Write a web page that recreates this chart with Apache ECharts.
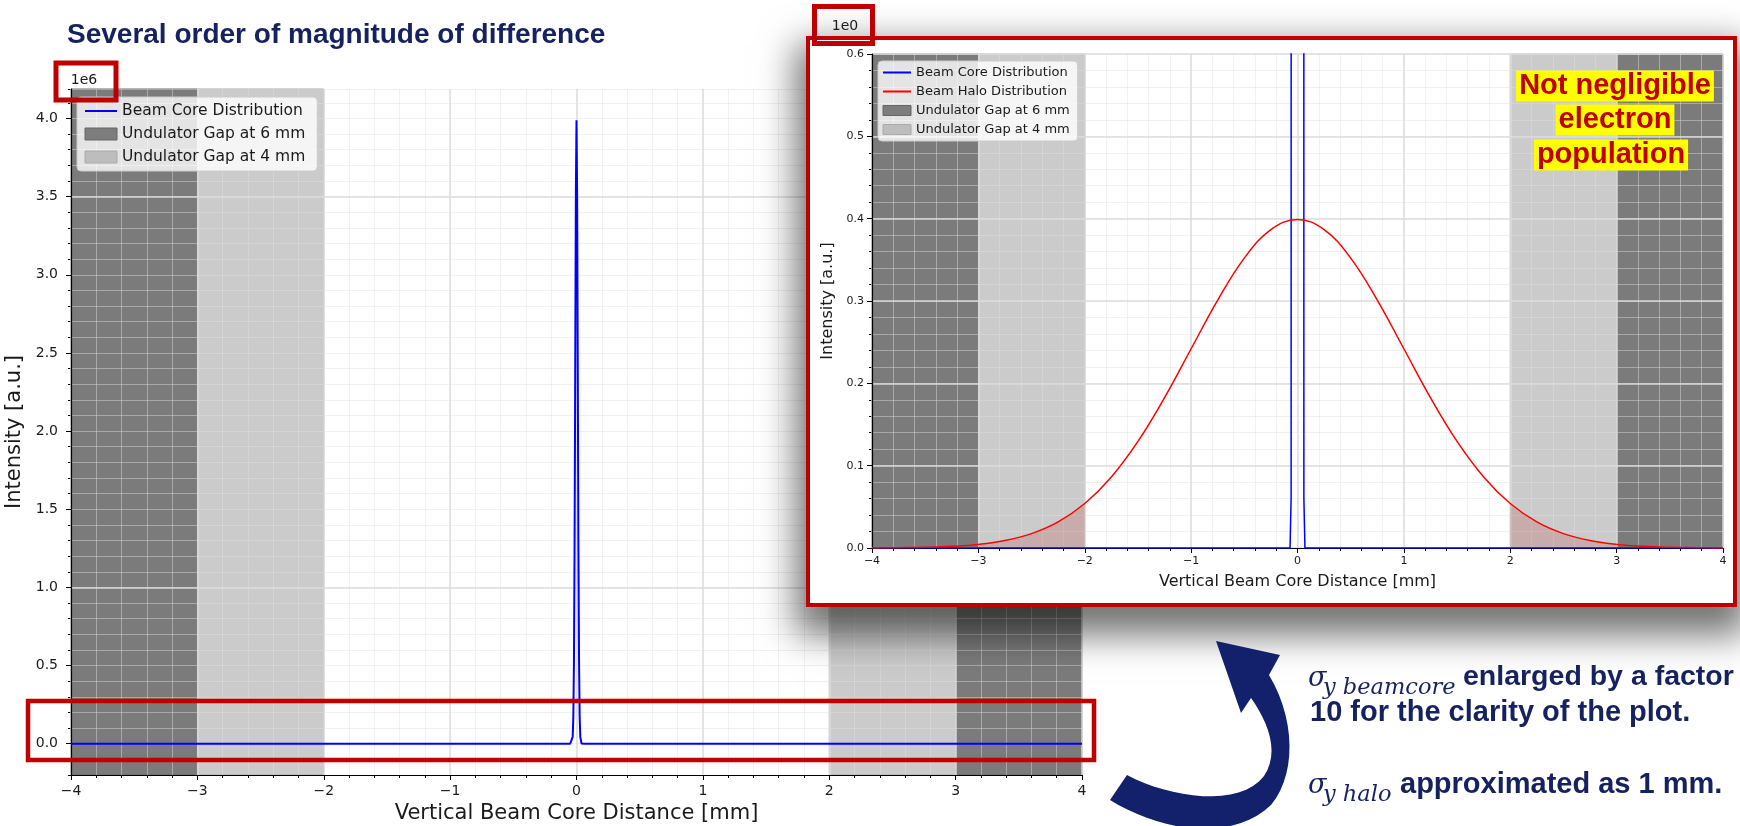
<!DOCTYPE html>
<html>
<head>
<meta charset="utf-8">
<title>Beam core vs halo</title>
<script src="https://cdn.jsdelivr.net/npm/echarts@6/dist/echarts.min.js"></script>
<style>
    html, body { margin: 0; padding: 0; background: #fff; }
    #page { position: relative; width: 1740px; height: 826px; overflow: hidden; background: #fff; }
    #main { position: absolute; left: 0; top: 0; width: 1740px; height: 826px; }
    #inset { position: absolute; left: 806px; top: 36px; width: 923px; height: 563px;
             border: 4px solid #c00000; background: #fff;
             box-shadow: 0 18px 34px 10px rgba(0,0,0,0.55); }
    #overlay { position: absolute; left: 0; top: 0; width: 1740px; height: 826px; pointer-events: none; }
</style>
</head>
<body>
<div id="page">
    <div id="main"></div>
    <div id="inset"></div>
    <div id="overlay"></div>
</div>
<script>
// data
const xTicks = [-4, -3, -2, -1, 0, 1, 2, 3, 4];
const gap6mm = [[-4, -3], [3, 4]];
const gap4mm = [[-3, -2], [2, 3]];

// beam core (sigma ~0.01 mm, peak ~3.99e6)
const coreX = [-4, -0.07, -0.06, -0.05, -0.04, -0.03, -0.025, -0.02, -0.015, -0.01, -0.005, 0,
               0.005, 0.01, 0.015, 0.02, 0.025, 0.03, 0.04, 0.05, 0.06, 0.07, 4];
const coreY = [0, 0, 0.06, 15, 1340, 44300, 175000, 540000, 1295000, 2420000, 3520000, 3989000,
               3520000, 2420000, 1295000, 540000, 175000, 44300, 1340, 15, 0.06, 0, 0];

// beam halo (sigma ~1 mm, peak ~0.399)
const haloX = [-4, -3.75, -3.5, -3.25, -3, -2.75, -2.5, -2.25, -2, -1.75, -1.5, -1.25, -1, -0.75, -0.5, -0.25, 0,
               0.25, 0.5, 0.75, 1, 1.25, 1.5, 1.75, 2, 2.25, 2.5, 2.75, 3, 3.25, 3.5, 3.75, 4];
const haloY = [0.0001, 0.0004, 0.0009, 0.0020, 0.0044, 0.0091, 0.0175, 0.0317, 0.0540, 0.0863, 0.1295, 0.1826, 0.2420, 0.3011, 0.3521, 0.3867, 0.3989,
               0.3867, 0.3521, 0.3011, 0.2420, 0.1826, 0.1295, 0.0863, 0.0540, 0.0317, 0.0175, 0.0091, 0.0044, 0.0020, 0.0009, 0.0004, 0.0001];

const mainYLabels = [0, 500000, 1000000, 1500000, 2000000, 2500000, 3000000, 3500000, 4000000];
const insetYLabels = [0, 0.1, 0.2, 0.3, 0.4, 0.5, 0.6];

const FONT = 'DejaVu Sans';
const TXT = '#1a1a1a';
const MAJOR_GRID = 'rgba(220,220,220,0.95)';
const MINOR_GRID = 'rgba(225,225,225,0.45)';
const DARK = '#7b7b7b';
const LIGHT = '#cbcbcb';

function fmtX(v) {
    if (Math.abs(v - Math.round(v)) > 1e-6) return '';
    const r = Math.round(v);
    return r < 0 ? '\u2212' + Math.abs(r) : String(r);
}

function bandSeries(name, ranges, fill, stroke) {
    return {
        type: 'custom', name: name, z: 1, silent: true,
        data: ranges.map(r => [r[0], r[1], 0]),
        encode: { x: [0, 1], y: 2 },
        itemStyle: { color: fill },
        renderItem: function (params, api) {
            const a = api.coord([api.value(0), 0]);
            const b = api.coord([api.value(1), 0]);
            const cs = params.coordSys;
            return {
                type: 'rect',
                shape: { x: a[0], y: cs.y, width: b[0] - a[0], height: cs.height },
                style: { fill: fill, stroke: stroke, lineWidth: 1 }
            };
        }
    };
}

function xAxes(fontSize, nameSize, nameGap, labelMargin) {
    return [{
        type: 'value', min: -4, max: 4, interval: 1, z: 4,
        axisLine: { show: true, onZero: false, lineStyle: { color: '#000', width: 1.2 } },
        axisTick: { show: true, length: 5, lineStyle: { color: '#000', width: 1 } },
        axisLabel: { fontFamily: FONT, fontSize: fontSize, color: TXT, margin: labelMargin, formatter: fmtX },
        splitLine: { show: true, lineStyle: { color: MAJOR_GRID, width: 1.5 } },
        name: 'Vertical Beam Core Distance [mm]', nameLocation: 'middle', nameGap: nameGap,
        nameTextStyle: { fontFamily: FONT, fontSize: nameSize, color: TXT }
    }, {
        type: 'value', min: -4, max: 4, interval: 0.2, z: 3, position: 'bottom',
        axisLine: { show: false, onZero: false },
        axisTick: { show: true, length: 3, lineStyle: { color: '#000', width: 1 } },
        axisLabel: { show: false },
        splitLine: { show: true, lineStyle: { color: MINOR_GRID, width: 1 } }
    }];
}

// legend entries: line series without the circle marker, patches for the gaps
const lineEntry = (name) => ({ name: name, itemStyle: { opacity: 0 } });
const gapEntries = [
    { name: 'Undulator Gap at 6 mm', icon: 'rect', itemStyle: { color: '#7d7d7d', borderColor: '#666', borderWidth: 1 } },
    { name: 'Undulator Gap at 4 mm', icon: 'rect', itemStyle: { color: '#bdbdbd', borderColor: '#aaa', borderWidth: 1 } }
];

// ---------- main chart ----------
const mainChart = echarts.init(document.getElementById('main'));
mainChart.setOption({
    animation: false,
    grid: { left: 71, right: 658, top: 89, bottom: 51, containLabel: false, outerBoundsMode: 'none' },
    legend: {
        left: 77, top: 97, orient: 'vertical', z: 10,
        itemWidth: 32, itemHeight: 12, itemGap: 7, padding: [6, 12, 6, 7],
        backgroundColor: 'rgba(255,255,255,0.8)', borderColor: '#cccccc', borderWidth: 1, borderRadius: 4,
        textStyle: { fontFamily: FONT, fontSize: 15.5, color: TXT },
        data: [lineEntry('Beam Core Distribution')].concat(gapEntries)
    },
    xAxis: xAxes(14, 21, 27, 9),
    yAxis: [{
        type: 'value', min: -200000, max: 4188500, interval: 100000, z: 4,
        axisLine: { show: true, onZero: false, lineStyle: { color: '#000', width: 1.2 } },
        axisTick: { show: true, length: 5, customValues: mainYLabels, lineStyle: { color: '#000', width: 1 } },
        axisLabel: {
            fontFamily: FONT, fontSize: 14, color: TXT, margin: 13,
            formatter: v => (Math.abs(v / 500000 - Math.round(v / 500000)) < 1e-6) ? (v / 1e6).toFixed(1) : ''
        },
        splitLine: { show: true, lineStyle: { color: ['transparent', 'transparent', MAJOR_GRID, 'transparent', 'transparent'], width: 1.5 } },
        name: 'Intensity [a.u.]', nameLocation: 'middle', nameGap: 35,
        nameTextStyle: { fontFamily: FONT, fontSize: 21, color: TXT }
    }, {
        type: 'value', min: -200000, max: 4188500, interval: 100000, z: 3, position: 'left',
        axisLine: { show: false, onZero: false },
        axisTick: { show: true, length: 3, lineStyle: { color: '#000', width: 1 } },
        axisLabel: { show: false },
        splitLine: { show: true, lineStyle: { color: MINOR_GRID, width: 1 } }
    }],
    series: [
        bandSeries('Undulator Gap at 6 mm', gap6mm, DARK, '#6a6a6a'),
        bandSeries('Undulator Gap at 4 mm', gap4mm, LIGHT, '#aaaaaa'),
        {
            type: 'line', name: 'Beam Core Distribution', z: 6,
            data: coreX.map((x, i) => [x, coreY[i]]),
            symbol: 'none', lineStyle: { color: '#0000ff', width: 2 }, itemStyle: { color: '#0000ff' }
        }
    ]
});

// ---------- inset (zoomed) chart ----------
const insetChart = echarts.init(document.getElementById('inset'));
insetChart.setOption({
    animation: false,
    grid: { left: 62, right: 10, top: 14, bottom: 55, containLabel: false, outerBoundsMode: 'none' },
    legend: {
        left: 68, top: 21, orient: 'vertical', z: 10,
        itemWidth: 28, itemHeight: 10, itemGap: 6, padding: [5, 8, 5, 4],
        backgroundColor: 'rgba(255,255,255,0.8)', borderColor: '#cccccc', borderWidth: 1, borderRadius: 4,
        textStyle: { fontFamily: FONT, fontSize: 13, color: TXT },
        data: [lineEntry('Beam Core Distribution'), lineEntry('Beam Halo Distribution')].concat(gapEntries)
    },
    xAxis: xAxes(11, 16, 26, 8),
    yAxis: [{
        type: 'value', min: 0, max: 0.6, interval: 0.1, z: 4,
        axisLine: { show: true, onZero: false, lineStyle: { color: '#000', width: 1.2 } },
        axisTick: { show: true, length: 5, lineStyle: { color: '#000', width: 1 } },
        axisLabel: { fontFamily: FONT, fontSize: 11, color: TXT, margin: 8, formatter: v => v.toFixed(1) },
        splitLine: { show: true, lineStyle: { color: MAJOR_GRID, width: 1.5 } },
        name: 'Intensity [a.u.]', nameLocation: 'middle', nameGap: 35,
        nameTextStyle: { fontFamily: FONT, fontSize: 16, color: TXT }
    }, {
        type: 'value', min: 0, max: 0.6, interval: 0.02, z: 3, position: 'left',
        axisLine: { show: false, onZero: false },
        axisTick: { show: true, length: 3, lineStyle: { color: '#000', width: 1 } },
        axisLabel: { show: false },
        splitLine: { show: true, lineStyle: { color: MINOR_GRID, width: 1 } }
    }],
    series: [
        bandSeries('Undulator Gap at 6 mm', gap6mm, DARK, '#6a6a6a'),
        bandSeries('Undulator Gap at 4 mm', gap4mm, LIGHT, '#aaaaaa'),
        {
            type: 'line', name: 'tailLeft', z: 5, silent: true, smooth: 0.4, symbol: 'none',
            data: haloX.map((x, i) => [x, haloY[i]]).filter(p => p[0] <= -2),
            lineStyle: { width: 0 }, areaStyle: { color: 'rgba(185,0,0,0.21)' }
        },
        {
            type: 'line', name: 'tailRight', z: 5, silent: true, smooth: 0.4, symbol: 'none',
            data: haloX.map((x, i) => [x, haloY[i]]).filter(p => p[0] >= 2),
            lineStyle: { width: 0 }, areaStyle: { color: 'rgba(185,0,0,0.21)' }
        },
        {
            type: 'line', name: 'Beam Core Distribution', z: 6,
            data: coreX.map((x, i) => [x, coreY[i]]),
            symbol: 'none', lineStyle: { color: '#0000ff', width: 1.5 }, itemStyle: { color: '#0000ff' }
        },
        {
            type: 'line', name: 'Beam Halo Distribution', z: 7, smooth: 0.4,
            data: haloX.map((x, i) => [x, haloY[i]]),
            symbol: 'none', lineStyle: { color: '#ff0000', width: 1.5 }, itemStyle: { color: '#ff0000' }
        }
    ]
});

// ---------- slide annotations ----------
const NAVY = '#16215f';
const boldFont = (s) => 'bold ' + s + 'px "Liberation Sans", Arial, sans-serif';
const mathFont = (s) => 'italic ' + s + 'px "DejaVu Serif", serif';

// outline of the curved arrow, built from cubic segments
function cubic(p0, p1, p2, p3, n) {
    const pts = [];
    for (let i = 1; i <= n; i++) {
        const t = i / n, u = 1 - t;
        pts.push([
            u * u * u * p0[0] + 3 * u * u * t * p1[0] + 3 * u * t * t * p2[0] + t * t * t * p3[0],
            u * u * u * p0[1] + 3 * u * u * t * p1[1] + 3 * u * t * t * p2[1] + t * t * t * p3[1]
        ]);
    }
    return pts;
}
const arrowPts = [[1127, 775]]
    .concat(cubic([1127, 775], [1170, 798], [1240, 808], [1264, 776], 16))
    .concat(cubic([1264, 776], [1280, 752], [1268, 722], [1251, 698], 12))
    .concat([[1241, 713], [1216, 641], [1280, 655], [1269, 675]])
    .concat(cubic([1269, 675], [1296, 720], [1296, 775], [1271, 805], 14))
    .concat(cubic([1271, 805], [1232, 842], [1162, 832], [1110, 800], 18));

const overlay = echarts.init(document.getElementById('overlay'));
overlay.setOption({
    animation: false,
    graphic: [
        { type: 'text', style: { x: 67, y: 35, text: 'Several order of magnitude of difference', font: boldFont(28), fill: NAVY, verticalAlign: 'middle' } },
        // offset labels with red highlight boxes
        { type: 'text', style: { x: 84, y: 80, text: '1e6', font: '14px "DejaVu Sans"', fill: TXT, align: 'center', verticalAlign: 'middle' } },
        { type: 'rect', shape: { x: 56, y: 63, width: 60, height: 37 }, style: { fill: 'none', stroke: '#c00000', lineWidth: 5 } },
        { type: 'text', style: { x: 845, y: 26, text: '1e0', font: '14px "DejaVu Sans"', fill: TXT, align: 'center', verticalAlign: 'middle' } },
        { type: 'rect', shape: { x: 814.5, y: 6.5, width: 58, height: 37 }, style: { fill: 'none', stroke: '#c00000', lineWidth: 5 } },
        { type: 'rect', shape: { x: 28, y: 701, width: 1066, height: 59 }, style: { fill: 'none', stroke: '#c00000', lineWidth: 4.5 } },
        // inset note
        { type: 'text', style: { x: 1615, y: 86, text: 'Not negligible', font: boldFont(29), fill: '#c00000', backgroundColor: '#ffff00', padding: [1, 3], align: 'center', verticalAlign: 'middle' } },
        { type: 'text', style: { x: 1615, y: 120, text: 'electron', font: boldFont(29), fill: '#c00000', backgroundColor: '#ffff00', padding: [1, 3], align: 'center', verticalAlign: 'middle' } },
        { type: 'text', style: { x: 1611, y: 155, text: 'population', font: boldFont(29), fill: '#c00000', backgroundColor: '#ffff00', padding: [1, 3], align: 'center', verticalAlign: 'middle' } },
        // curved arrow
        { type: 'polygon', shape: { points: arrowPts }, style: { fill: '#13206b' } },
        // notes
        { type: 'text', style: { x: 1308, y: 679, text: '\u03c3', font: mathFont(27), fill: NAVY, verticalAlign: 'middle' } },
        { type: 'text', style: { x: 1323, y: 688, text: 'y beamcore', font: mathFont(22.5), fill: NAVY, verticalAlign: 'middle' } },
        { type: 'text', style: { x: 1463, y: 677, text: 'enlarged by a factor', font: boldFont(28.5), fill: NAVY, verticalAlign: 'middle' } },
        { type: 'text', style: { x: 1310, y: 713, text: '10 for the clarity of the plot.', font: boldFont(29), fill: NAVY, verticalAlign: 'middle' } },
        { type: 'text', style: { x: 1308, y: 786, text: '\u03c3', font: mathFont(27), fill: NAVY, verticalAlign: 'middle' } },
        { type: 'text', style: { x: 1323, y: 795, text: 'y halo', font: mathFont(22.5), fill: NAVY, verticalAlign: 'middle' } },
        { type: 'text', style: { x: 1400, y: 785, text: 'approximated as 1 mm.', font: boldFont(29), fill: NAVY, verticalAlign: 'middle' } }
    ]
});
</script>
</body>
</html>
